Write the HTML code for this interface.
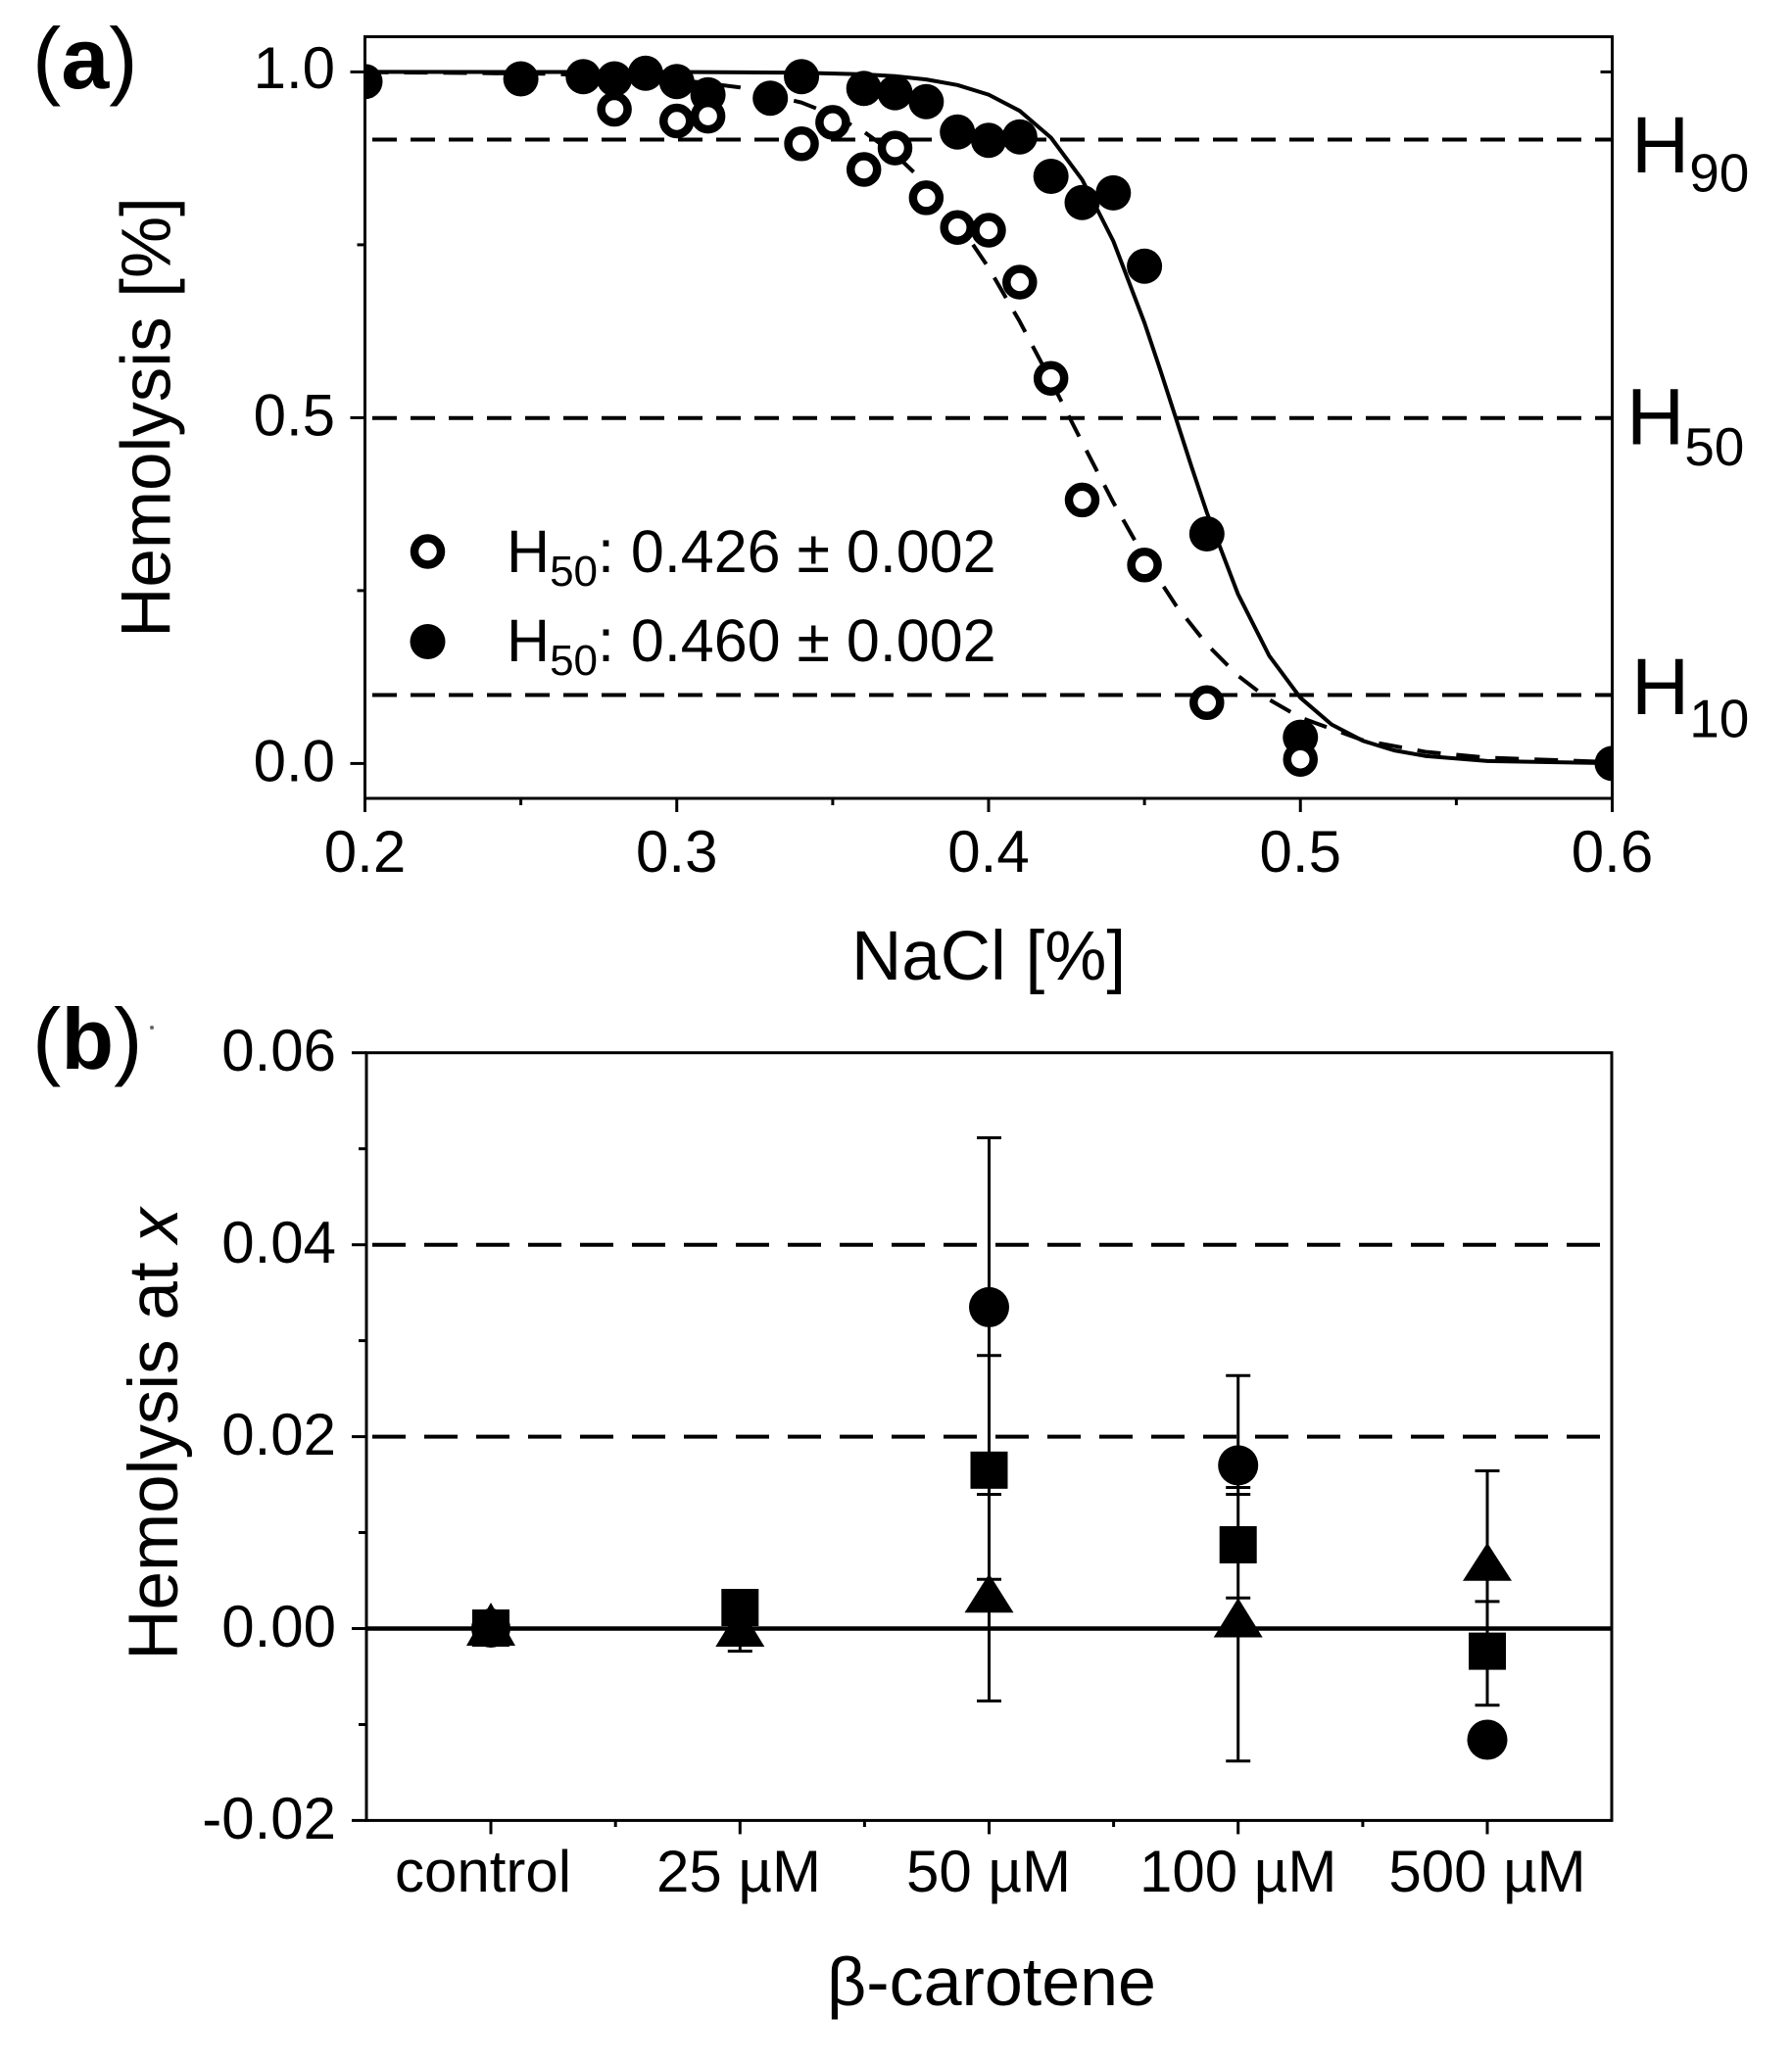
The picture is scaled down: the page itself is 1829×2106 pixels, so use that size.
<!DOCTYPE html>
<html>
<head>
<meta charset="utf-8">
<style>
html,body{margin:0;padding:0;background:#fff;}
svg{display:block;}
text{font-family:"Liberation Sans",Arial,sans-serif;fill:#000;}
</style>
</head>
<body>
<svg width="1829" height="2106" viewBox="0 0 1829 2106" xmlns="http://www.w3.org/2000/svg">
<defs>
<clipPath id="ca"><rect x="372.5" y="37.5" width="1273" height="777.5"/></clipPath>
<clipPath id="cb"><rect x="374" y="1074.7" width="1271" height="783.7"/></clipPath>
</defs>
<rect width="1829" height="2106" fill="#fff"/>

<!-- ================= PANEL A ================= -->
<text x="33" y="90" font-size="88">(<tspan font-weight="bold">a</tspan>)</text>

<!-- reference dashed lines -->
<g stroke="#000" stroke-width="4" stroke-dasharray="25 14" fill="none">
<line x1="380" y1="142.5" x2="1644" y2="142.5"/>
<line x1="380" y1="426.8" x2="1644" y2="426.8"/>
<line x1="380" y1="709.5" x2="1644" y2="709.5"/>
</g>

<g clip-path="url(#ca)">
<!-- solid fit (filled) -->
<polyline fill="none" stroke="#000" stroke-width="4" stroke-linejoin="round" points="372.5,73.4 690.75,73.5 818.05,74.2 881.7,75.9 913.5,77.8 945.35,81.1 977.2,86.8 1009,96.6 1040.8,113.2 1072.65,140.5 1104.5,183.4 1136.3,246.1 1168.1,329.5 1184,377 1200,426.4 1215.9,475.8 1231.8,523.3 1263.6,606.6 1295.4,669.4 1327.25,712.3 1359.1,739.6 1390.9,756.2 1422.7,766 1454.55,771.7 1518.2,776.9 1645.5,779.1"/>
<!-- dashed fit (hollow) -->
<polyline fill="none" stroke="#000" stroke-width="4" stroke-dasharray="24 16" stroke-linejoin="round" points="372.5,73.6 563.45,75.3 690.75,81.2 754.4,89.1 818.05,104.7 849.9,117.3 881.7,134.5 913.5,157.5 945.35,187.8 977.2,226.3 1009,273.3 1040.8,328.3 1072.65,388.7 1091.7,426.4 1104.5,451.6 1136.3,512.9 1168.1,569 1200,617.7 1231.8,657.9 1263.6,689.8 1295.4,714.2 1327.25,732.5 1390.9,755.6 1454.55,767.5 1518.2,773.5 1645.5,778"/>

<!-- filled markers -->
<g fill="#000">
<circle cx="372.5" cy="83.3" r="18"/>
<circle cx="531.6" cy="80.5" r="18"/>
<circle cx="595.3" cy="78.3" r="18"/>
<circle cx="627.1" cy="80.5" r="18"/>
<circle cx="658.9" cy="74.8" r="18"/>
<circle cx="690.75" cy="83.3" r="18"/>
<circle cx="722.6" cy="96.7" r="18"/>
<circle cx="786.2" cy="100.2" r="18"/>
<circle cx="818.05" cy="78.3" r="18"/>
<circle cx="881.7" cy="90.3" r="18"/>
<circle cx="913.5" cy="94.6" r="18"/>
<circle cx="945.35" cy="103.8" r="18"/>
<circle cx="977.2" cy="134.8" r="18"/>
<circle cx="1009" cy="143.3" r="18"/>
<circle cx="1040.8" cy="139.7" r="18"/>
<circle cx="1072.65" cy="180" r="18"/>
<circle cx="1104.5" cy="206.8" r="18"/>
<circle cx="1136.3" cy="196.9" r="18"/>
<circle cx="1168.1" cy="271.8" r="18"/>
<circle cx="1231.8" cy="545" r="18"/>
<circle cx="1327.25" cy="752.6" r="18"/>
<circle cx="1645.5" cy="779.4" r="18"/>
</g>
<!-- hollow markers -->
<g fill="#fff" stroke="#000" stroke-width="8.5">
<circle cx="627.1" cy="111.5" r="13.5"/>
<circle cx="690.75" cy="123.5" r="13.5"/>
<circle cx="722.6" cy="118.6" r="13.5"/>
<circle cx="818.05" cy="146.8" r="13.5"/>
<circle cx="849.9" cy="124.9" r="13.5"/>
<circle cx="881.7" cy="173" r="13.5"/>
<circle cx="913.5" cy="151.1" r="13.5"/>
<circle cx="945.35" cy="201.9" r="13.5"/>
<circle cx="977.2" cy="232.2" r="13.5"/>
<circle cx="1009" cy="235" r="13.5"/>
<circle cx="1040.8" cy="288" r="13.5"/>
<circle cx="1072.65" cy="386.2" r="13.5"/>
<circle cx="1104.5" cy="510.4" r="13.5"/>
<circle cx="1168.1" cy="576.8" r="13.5"/>
<circle cx="1231.8" cy="717.3" r="13.5"/>
<circle cx="1327.25" cy="775.2" r="13.5"/>
</g>
</g>

<!-- axes frame a -->
<rect x="372.5" y="37.5" width="1273" height="777.5" fill="none" stroke="#000" stroke-width="3"/>
<g stroke="#000" stroke-width="3">
<!-- left ticks -->
<line x1="357.5" y1="73.4" x2="372.5" y2="73.4"/>
<line x1="357.5" y1="426.4" x2="372.5" y2="426.4"/>
<line x1="357.5" y1="779.4" x2="372.5" y2="779.4"/>
<line x1="364.5" y1="249.9" x2="372.5" y2="249.9"/>
<line x1="364.5" y1="602.9" x2="372.5" y2="602.9"/>
<!-- right inward ticks -->
<line x1="1633.5" y1="73.4" x2="1645.5" y2="73.4"/>
<line x1="1633.5" y1="426.4" x2="1645.5" y2="426.4"/>
<line x1="1633.5" y1="779.4" x2="1645.5" y2="779.4"/>
<!-- bottom ticks -->
<line x1="372.5" y1="815" x2="372.5" y2="829"/>
<line x1="690.75" y1="815" x2="690.75" y2="829"/>
<line x1="1009" y1="815" x2="1009" y2="829"/>
<line x1="1327.25" y1="815" x2="1327.25" y2="829"/>
<line x1="1645.5" y1="815" x2="1645.5" y2="829"/>
<line x1="531.6" y1="815" x2="531.6" y2="822"/>
<line x1="849.9" y1="815" x2="849.9" y2="822"/>
<line x1="1168.1" y1="815" x2="1168.1" y2="822"/>
<line x1="1486.4" y1="815" x2="1486.4" y2="822"/>
</g>

<!-- tick labels a -->
<g font-size="60" text-anchor="end">
<text x="342" y="90">1.0</text>
<text x="342" y="444.5">0.5</text>
<text x="342" y="797.5">0.0</text>
</g>
<g font-size="60" text-anchor="middle">
<text x="372.5" y="890">0.2</text>
<text x="690.75" y="890">0.3</text>
<text x="1009" y="890">0.4</text>
<text x="1327.25" y="890">0.5</text>
<text x="1645.5" y="890">0.6</text>
</g>

<!-- axis titles a -->
<text x="1009" y="1000" font-size="71" text-anchor="middle">NaCl [%]</text>
<text transform="translate(173.5,426) rotate(-90)" font-size="71" text-anchor="middle">Hemolysis [%]</text>

<!-- H labels right -->
<text x="1665" y="176" font-size="82">H<tspan font-size="55" dy="19.5">90</tspan></text>
<text x="1660" y="453.5" font-size="82">H<tspan font-size="55" dy="21.5">50</tspan></text>
<text x="1665" y="729" font-size="82">H<tspan font-size="55" dy="23.7">10</tspan></text>

<!-- legend -->
<circle cx="436.5" cy="563" r="13.5" fill="#fff" stroke="#000" stroke-width="8.5"/>
<circle cx="436.5" cy="655" r="18" fill="#000"/>
<text x="517" y="584" font-size="61">H<tspan font-size="44" dy="14">50</tspan><tspan dy="-14">: 0.426 ± 0.002</tspan></text>
<text x="517" y="675" font-size="61">H<tspan font-size="44" dy="14">50</tspan><tspan dy="-14">: 0.460 ± 0.002</tspan></text>

<!-- ================= PANEL B ================= -->
<text x="33" y="1091" font-size="88">(<tspan font-weight="bold">b</tspan>)</text>
<circle cx="155" cy="1049" r="2" fill="#666"/>

<!-- dashed lines -->
<g stroke="#000" stroke-width="4" stroke-dasharray="34 19" fill="none">
<line x1="380" y1="1270.7" x2="1644" y2="1270.7"/>
<line x1="380" y1="1466.6" x2="1644" y2="1466.6"/>
</g>
<!-- zero line -->
<line x1="374" y1="1662.5" x2="1645" y2="1662.5" stroke="#000" stroke-width="4.5"/>

<g clip-path="url(#cb)">
<!-- error bars -->
<g stroke="#000" stroke-width="3" fill="none">
<!-- 50 uM -->
<line x1="1009.5" y1="1161.5" x2="1009.5" y2="1736.4"/>
<line x1="997" y1="1161.5" x2="1022" y2="1161.5"/>
<line x1="997" y1="1383.7" x2="1022" y2="1383.7"/>
<line x1="997" y1="1525.5" x2="1022" y2="1525.5"/>
<line x1="997" y1="1612.3" x2="1022" y2="1612.3"/>
<line x1="997" y1="1736.4" x2="1022" y2="1736.4"/>
<!-- 100 uM -->
<line x1="1263.7" y1="1404.2" x2="1263.7" y2="1797.8"/>
<line x1="1251.2" y1="1404.2" x2="1276.2" y2="1404.2"/>
<line x1="1251.2" y1="1518.5" x2="1276.2" y2="1518.5"/>
<line x1="1251.2" y1="1525.5" x2="1276.2" y2="1525.5"/>
<line x1="1251.2" y1="1631.3" x2="1276.2" y2="1631.3"/>
<line x1="1251.2" y1="1797.8" x2="1276.2" y2="1797.8"/>
<!-- 500 uM -->
<line x1="1518" y1="1501.5" x2="1518" y2="1740.7"/>
<line x1="1505.5" y1="1501.5" x2="1530.5" y2="1501.5"/>
<line x1="1505.5" y1="1634.9" x2="1530.5" y2="1634.9"/>
<line x1="1505.5" y1="1740.7" x2="1530.5" y2="1740.7"/>
<!-- 25 uM -->
<line x1="755.3" y1="1630" x2="755.3" y2="1685.6"/>
<line x1="742.8" y1="1685.6" x2="767.8" y2="1685.6"/>
</g>

<g fill="#000">
<!-- control -->
<circle cx="501" cy="1662" r="20"/>
<rect x="482" y="1643" width="38" height="38"/>
<path d="M501,1636 L526,1680 L476,1680 Z"/>
<!-- 25 uM -->
<path d="M755.3,1640 L780.3,1681 L730.3,1681 Z"/>
<rect x="736.3" y="1622" width="38" height="38"/>
<!-- 50 uM -->
<circle cx="1009.5" cy="1334.4" r="20.5"/>
<rect x="990.5" y="1481.8" width="38" height="38"/>
<path d="M1009.5,1606.6 L1034.5,1646.2 L984.5,1646.2 Z"/>
<!-- 100 uM -->
<circle cx="1263.7" cy="1495.9" r="20.5"/>
<rect x="1244.7" y="1558" width="38" height="38"/>
<path d="M1263.7,1631.3 L1288.7,1671.5 L1238.7,1671.5 Z"/>
<!-- 500 uM -->
<path d="M1518,1574.9 L1543,1613.7 L1493,1613.7 Z"/>
<rect x="1499" y="1666.6" width="38" height="38"/>
<circle cx="1518" cy="1776" r="20.5"/>
</g>
</g>

<!-- axes frame b -->
<rect x="374" y="1074.7" width="1271" height="783.7" fill="none" stroke="#000" stroke-width="3"/>
<g stroke="#000" stroke-width="3">
<line x1="359" y1="1074.7" x2="374" y2="1074.7"/>
<line x1="359" y1="1270.7" x2="374" y2="1270.7"/>
<line x1="359" y1="1466.6" x2="374" y2="1466.6"/>
<line x1="359" y1="1662.5" x2="374" y2="1662.5"/>
<line x1="359" y1="1858.4" x2="374" y2="1858.4"/>
<line x1="366" y1="1172.7" x2="374" y2="1172.7"/>
<line x1="366" y1="1368.6" x2="374" y2="1368.6"/>
<line x1="366" y1="1564.5" x2="374" y2="1564.5"/>
<line x1="366" y1="1760.5" x2="374" y2="1760.5"/>
<!-- bottom -->
<line x1="501" y1="1858.4" x2="501" y2="1872.4"/>
<line x1="755.3" y1="1858.4" x2="755.3" y2="1872.4"/>
<line x1="1009.5" y1="1858.4" x2="1009.5" y2="1872.4"/>
<line x1="1263.7" y1="1858.4" x2="1263.7" y2="1872.4"/>
<line x1="1518" y1="1858.4" x2="1518" y2="1872.4"/>
<line x1="628.2" y1="1858.4" x2="628.2" y2="1865"/>
<line x1="882.4" y1="1858.4" x2="882.4" y2="1865"/>
<line x1="1136.6" y1="1858.4" x2="1136.6" y2="1865"/>
<line x1="1390.9" y1="1858.4" x2="1390.9" y2="1865"/>
</g>

<g font-size="60" text-anchor="end">
<text x="343" y="1093">0.06</text>
<text x="343" y="1289">0.04</text>
<text x="343" y="1485">0.02</text>
<text x="343" y="1681">0.00</text>
<text x="343" y="1877">-0.02</text>
</g>
<g font-size="60" text-anchor="middle">
<text x="493" y="1931">control</text>
<text x="754" y="1931">25 µM</text>
<text x="1009" y="1931">50 µM</text>
<text x="1263.7" y="1931">100 µM</text>
<text x="1518" y="1931">500 µM</text>
</g>

<text x="1012" y="2047" font-size="70" text-anchor="middle">β-carotene</text>
<text transform="translate(181,1464) rotate(-90)" font-size="71" text-anchor="middle">Hemolysis at <tspan font-style="italic">x</tspan></text>
</svg>
</body>
</html>
